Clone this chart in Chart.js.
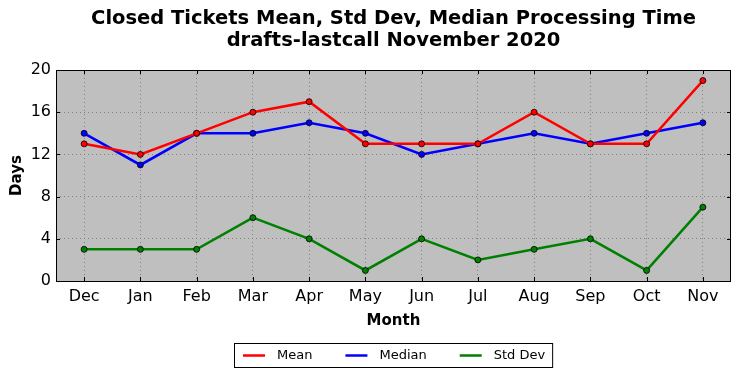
<!DOCTYPE html>
<html>
<head>
<meta charset="utf-8">
<script src="https://cdn.jsdelivr.net/npm/chart.js@4"></script>
<style>
  html, body { margin: 0; padding: 0; background: #fff; }
  #wrap { width: 741px; height: 378px; }
</style>
</head>
<body>
<div id="wrap"><canvas id="myChart" width="741" height="378"></canvas></div>
<script>
// data
const months = ["Dec", "Jan", "Feb", "Mar", "Apr", "May", "Jun", "Jul", "Aug", "Sep", "Oct", "Nov"];
const meanValues = [13, 12, 14, 16, 17, 13, 13, 13, 16, 13, 13, 19];
const medianValues = [14, 11, 14, 14, 15, 14, 12, 13, 14, 13, 14, 15];
const stdDevValues = [3, 3, 3, 6, 4, 1, 4, 2, 3, 4, 1, 7];
const yTicks = [0, 4, 8, 12, 16, 20];
const titleLines = ["Closed Tickets Mean, Std Dev, Median Processing Time", "drafts-lastcall November 2020"];

const FONT = "'DejaVu Sans', sans-serif";

function series(label, data, color) {
  return {
    label: label,
    data: data,
    borderColor: color,
    backgroundColor: color,
    borderWidth: 2.5,
    pointRadius: 3,
    pointBorderColor: "#000",
    pointBorderWidth: 0.8,
    pointBackgroundColor: color,
    tension: 0,
    fill: false
  };
}

// frame, inward ticks, title and boxed legend, centred on the plot like matplotlib
const framePlugin = {
  id: "frame",
  beforeDatasetsDraw(chart) {
    const a = chart.chartArea;
    const c = chart.ctx;
    c.save();
    c.strokeStyle = "#000";
    c.lineWidth = 1;
    const xs = chart.scales.x, ys = chart.scales.y;
    c.beginPath();
    xs.ticks.forEach((t, i) => {
      const px = Math.round(xs.getPixelForTick(i)) + 0.5;
      c.moveTo(px, a.bottom); c.lineTo(px, a.bottom - 4);
      c.moveTo(px, a.top); c.lineTo(px, a.top + 4);
    });
    ys.ticks.forEach((t, i) => {
      const py = Math.round(ys.getPixelForTick(i)) + 0.5;
      c.moveTo(a.left, py); c.lineTo(a.left + 4, py);
      c.moveTo(a.right, py); c.lineTo(a.right - 4, py);
    });
    c.stroke();
    c.restore();
  },
  afterDraw(chart) {
    const a = chart.chartArea;
    const c = chart.ctx;
    const cx = (a.left + a.right) / 2;
    c.save();
    c.strokeStyle = "#000";
    c.lineWidth = 1;
    c.strokeRect(a.left + 0.5, a.top + 0.5, a.right - a.left - 1, a.bottom - a.top);

    // title
    c.fillStyle = "#000";
    c.font = "bold 19.5px " + FONT;
    c.textAlign = "center";
    c.textBaseline = "middle";
    c.fillText(titleLines[0], cx, 19);
    c.fillText(titleLines[1], cx, 41);

    // legend
    const items = chart.data.datasets;
    c.font = "13px " + FONT;
    const lineLen = 22, gapTxt = 12, gapItem = 33, padL = 9, padR = 7;
    let w = padL + padR;
    items.forEach((d, i) => {
      w += lineLen + gapTxt + c.measureText(d.label).width;
      if (i < items.length - 1) w += gapItem;
    });
    const top = 343, h = 24;
    const left = Math.round(cx - w / 2);
    c.fillStyle = "#fff";
    c.fillRect(left + 0.5, top + 0.5, w, h);
    c.strokeRect(left + 0.5, top + 0.5, w, h);
    let x = left + padL;
    const yMid = top + h / 2 + 0.5;
    c.textAlign = "left";
    items.forEach(d => {
      c.strokeStyle = d.borderColor;
      c.lineWidth = 2.5;
      c.beginPath();
      c.moveTo(x, yMid); c.lineTo(x + lineLen, yMid);
      c.stroke();
      x += lineLen + gapTxt;
      c.fillStyle = "#000";
      c.fillText(d.label, x, yMid);
      x += c.measureText(d.label).width + gapItem;
    });
    c.restore();
  }
};

const plotBg = {
  id: "plotBg",
  beforeDraw(chart) {
    const a = chart.chartArea;
    chart.ctx.save();
    chart.ctx.fillStyle = "#bfbfbf";
    chart.ctx.fillRect(a.left, a.top, a.right - a.left, a.bottom - a.top);
    chart.ctx.restore();
  }
};

new Chart(document.getElementById("myChart").getContext("2d"), {
  type: "line",
  data: {
    labels: months,
    datasets: [
      series("Mean", meanValues, "#ff0000"),
      series("Median", medianValues, "#0000ff"),
      series("Std Dev", stdDevValues, "#008000")
    ]
  },
  options: {
    responsive: false,
    animation: false,
    layout: { padding: { top: 70, bottom: 48, left: 4, right: 10 } },
    plugins: {
      legend: { display: false },
      title: { display: false },
      tooltip: { enabled: false }
    },
    scales: {
      x: {
        offset: true,
        grid: { color: "#7f7f7f", lineWidth: 1, drawTicks: false, offset: false },
        border: { display: false, dash: [1, 3] },
        ticks: { color: "#000", font: { family: FONT, size: 16 }, padding: 6, maxRotation: 0, autoSkip: false },
        title: { display: true, text: "Month", color: "#000", font: { family: FONT, size: 15, weight: "bold" }, padding: { top: 1, bottom: 0 } },
        afterFit(scale) { scale.height = 49; }
      },
      y: {
        min: 0,
        max: 20,
        afterBuildTicks(scale) { scale.ticks = yTicks.map(v => ({ value: v })); },
        grid: { color: "#7f7f7f", lineWidth: 1, drawTicks: false },
        border: { display: false, dash: [1, 3] },
        ticks: { color: "#000", font: { family: FONT, size: 16 }, padding: 5 },
        title: { display: true, text: "Days", color: "#000", font: { family: FONT, size: 15, weight: "bold" }, padding: { top: 4, bottom: 0 } },
        afterFit(scale) { scale.width = 52; }
      }
    }
  },
  plugins: [plotBg, framePlugin]
});
</script>
</body>
</html>
